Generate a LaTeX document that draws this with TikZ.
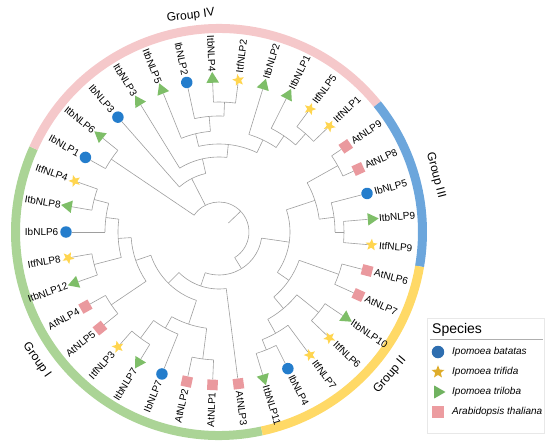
\documentclass[tikz,border=0pt]{standalone}
\usepackage{fontspec}
\setmainfont{Liberation Sans}
\usetikzlibrary{shapes.geometric}
\definecolor{ibblue}{RGB}{36,125,204}
\definecolor{itfyellow}{RGB}{255,213,79}
\definecolor{itbgreen}{RGB}{126,190,104}
\definecolor{atpink}{RGB}{234,153,158}
\definecolor{ibkeyc}{RGB}{46,110,176}
\definecolor{itfkeyc}{RGB}{222,172,42}
\definecolor{itbkeyc}{RGB}{112,178,96}
\definecolor{atkeyc}{RGB}{236,156,160}
\definecolor{ringI}{RGB}{171,212,150}
\definecolor{ringII}{RGB}{255,217,102}
\definecolor{ringIII}{RGB}{108,166,220}
\definecolor{ringIV}{RGB}{245,200,202}
\definecolor{twig}{RGB}{158,158,158}
\definecolor{keybox}{RGB}{232,232,232}
\definecolor{keyrule}{RGB}{175,175,175}

\begin{document}
\begin{tikzpicture}[
x=1pt, y=1pt,
branch/.style={
	draw=twig,
	line width=0.6pt
},
ibmark/.style={circle, fill=ibblue, minimum size=11.5pt, inner sep=0pt},
itfmark/.style={star, star points=5, star point ratio=2.3, fill=itfyellow, minimum size=12.5pt, inner sep=0pt},
itbmark/.style={regular polygon, regular polygon sides=3, shape border rotate=-90, fill=itbgreen, minimum size=14.5pt, inner sep=0pt},
atmark/.style={rectangle, fill=atpink, minimum size=10.5pt, inner sep=0pt},
ibkey/.style={circle, fill=ibkeyc, minimum size=12.5pt, inner sep=0pt},
itfkey/.style={star, star points=5, star point ratio=2.3, fill=itfkeyc, minimum size=13.5pt, inner sep=0pt},
itbkey/.style={regular polygon, regular polygon sides=3, shape border rotate=-90, fill=itbkeyc, minimum size=15pt, inner sep=0pt},
atkey/.style={rectangle, fill=atkeyc, minimum size=12pt, inner sep=0pt},
leaf/.style={font=\fontsize{10}{12}\selectfont, inner sep=0pt},
grp/.style={font=\fontsize{12}{14}\selectfont, inner sep=0pt},
ring/.style={line width=9pt}
]
\useasboundingbox (-219,-216) rectangle (331,232);

% group ring
\draw[ring, ringI] (282.16:203.5) arc[start angle=282.16, end angle=155.68, radius=203.5pt];
\draw[ring, ringIV] (155.68:203.5) arc[start angle=155.68, end angle=38.92, radius=203.5pt];
\draw[ring, ringIII] (38.92:203.5) arc[start angle=38.92, end angle=-9.73, radius=203.5pt];
\draw[ring, ringII] (-9.73:203.5) arc[start angle=-9.73, end angle=-77.84, radius=203.5pt];

\node[grp, rotate=7.4] (gIV) at (97.4:218) {Group IV};
\node[grp, rotate=-75.3] (gIII) at (14.7:224) {Group III};
\node[grp, rotate=50.1] (gII) at (-39.9:223) {Group II};
\node[grp, rotate=-54.8] (gI) at (215.2:223) {Group I};

% clades: name/radius/first child/last child/parent radius
\foreach \n/\r/\p/\q/\rp in {
	root/30/145.95/-58.46/13,
	iv1/130/150.81/141.08/30, iv2/60/131.35/102.77/30,
	iv3/75/121.62/83.92/60, iv4/88/103.38/64.46/75,
	iv5/101/111.89/94.86/88, iv7/116/102.16/87.57/101,
	iv8/130/92.43/82.70/116, iv6/102/72.97/55.94/88,
	iv9/116/63.24/48.65/102, iv10/131/53.51/43.78/116,
	X/43/-8.21/-108.70/30, g23/71/18.24/-34.66/43,
	iii/101/29.19/7.30/71, iii1/136/34.05/24.32/101,
	iii2/116/14.59/0/101, iii3/125/4.86/-4.86/116,
	ii/85/-19.46/-49.86/71, ii1/127/-14.59/-24.32/85,
	ii5/100/-38.92/-60.81/85, ii2/128/-34.05/-43.78/100,
	ii4/116/-53.51/-68.11/100, ii3/127/-63.24/-72.97/116,
	nM/57/225.30/277.30/43, nL/72/198.85/251.76/57,
	nK/97/240.81/262.70/72, nJ/128/257.84/267.57/97,
	nI/110/248.11/233.51/97, nH/132/228.65/238.38/110,
	nG/88/183.65/214.05/72, nF/130/218.92/209.19/88,
	nE/101/172.70/194.60/88, nA/129/189.73/199.46/101,
	nD/114/180.00/165.41/101, nC/129/170.27/160.54/114}{
	\pgfmathsetmacro\m{(\p+\q)/2}
	\coordinate (\n) at (\m:\r);
	\draw[branch] (\p:\r) arc[start angle=\p, end angle=\q, radius=\r pt];
	\draw[branch] (\n) -- (\m:\rp);
}

% leaves: label/marker/parent radius
\foreach \nm/\sp/\rp [count=\i from 0] in {
	AtNLP3/atmark/57, AtNLP1/atmark/128, AtNLP2/atmark/128,
	IbNLP7/ibmark/110, ItbNLP7/itbmark/132, ItfNLP3/itfmark/132,
	AtNLP5/atmark/130, AtNLP4/atmark/130, ItbNLP12/itbmark/129,
	ItfNLP8/itfmark/129, IbNLP6/ibmark/114, ItbNLP8/itbmark/129,
	ItfNLP4/itfmark/129, IbNLP1/ibmark/130, ItbNLP6/itbmark/130,
	IbNLP3/ibmark/60, ItbNLP3/itbmark/75, ItbNLP5/itbmark/101,
	IbNLP2/ibmark/116, ItbNLP4/itbmark/130, ItfNLP2/itfmark/130,
	ItbNLP2/itbmark/102, ItbNLP1/itbmark/116, ItfNLP5/itfmark/131,
	ItfNLP1/itfmark/131, AtNLP9/atmark/136, AtNLP8/atmark/136,
	IbNLP5/ibmark/116, ItbNLP9/itbmark/125, ItfNLP9/itfmark/125,
	AtNLP6/atmark/127, AtNLP7/atmark/127, ItbNLP10/itbmark/128,
	ItfNLP6/itfmark/128, ItfNLP7/itfmark/116, IbNLP4/ibmark/127,
	ItbNLP11/itbmark/127}{
	\pgfmathsetmacro\a{277.297-9.7297*\i}
	\pgfmathtruncatemacro\lft{(\a>90)&&(\a<270)}
	\node[\sp, rotate=\a] (m\i) at (\a:153) {};
	\draw[branch] (m\i) -- (\a:\rp);
	\ifnum\lft=1
	\node[leaf, anchor=east, rotate=\a+180] (t\i) at (\a:160.5) {\nm};
	\else
	\node[leaf, anchor=west, rotate=\a] (t\i) at (\a:160.5) {\nm};
	\fi
}

% legend
\node[draw=keybox, line width=0.5pt, minimum width=117pt, minimum height=115pt, anchor=north west, inner sep=0pt] (legend) at (208,-86) {};
\node[anchor=west, inner sep=0pt, font=\fontsize{14}{16}\selectfont] (species) at (213,-98) {Species};
\coordinate (u1) at (211,-107);
\coordinate (u2) at (324,-107);
\draw[keyrule, line width=0.6pt] (u1) -- (u2);
\foreach \sp/\txt [count=\k] in {ibkey/Ipomoea batatas, itfkey/Ipomoea trifida, itbkey/Ipomoea triloba, atkey/Arabidopsis thaliana}{
	\node[\sp] (k\k) at (219,-100-20*\k) {};
	\node[anchor=west, inner sep=0pt, font=\itshape\fontsize{10}{12}\selectfont] (e\k) at (233,-100-20*\k) {\txt};
}

\end{tikzpicture}
\end{document}
